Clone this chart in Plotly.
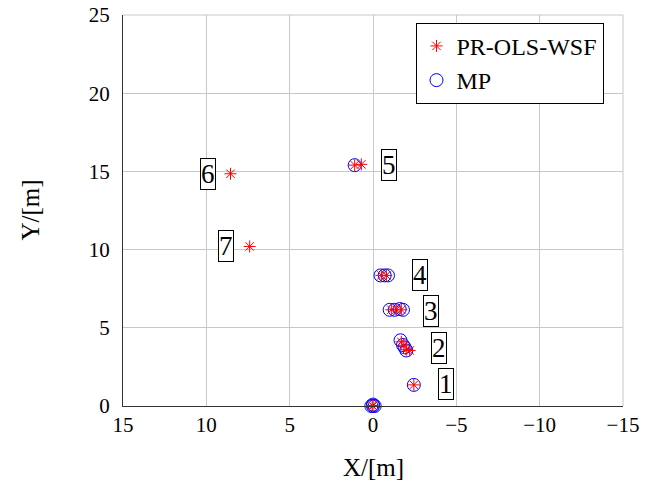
import plotly.graph_objects as go

# PR-OLS-WSF estimates (red asterisks)
pr_x = [0.0, 0.05, -0.05, -2.45, -1.7, -1.85, -2.0, -2.2, -1.1, -1.4, -1.7, -0.5, -0.8, 1.1, 0.7, 8.55, 7.4]
pr_y = [0.0, 0.03, -0.03, 1.35, 4.1, 3.85, 3.6, 3.55, 6.15, 6.15, 6.15, 8.35, 8.35, 15.4, 15.45, 14.85, 10.2]

# MP estimates (blue circles)
mp_x = [0.0, 0.1, -0.1, 0.0, 0.0, -2.45, -1.65, -1.8, -1.9, -2.0, -1.0, -1.3, -1.6, -1.8, -0.45, -0.7, -0.9, 1.1]
mp_y = [0.0, 0.0, 0.0, 0.09, -0.09, 1.35, 4.2, 3.9, 3.75, 3.55, 6.15, 6.15, 6.2, 6.15, 8.35, 8.35, 8.35, 15.4]

# Source labels
lab_text = ["1", "2", "3", "4", "5", "6", "7"]
lab_x = [-4.4, -3.95, -3.45, -2.8, -0.95, 9.9, 8.8]
lab_y = [1.4, 3.7, 6.1, 8.4, 15.4, 14.85, 10.2]

x_ticks = [15, 10, 5, 0, -5, -10, -15]
y_ticks = [0, 5, 10, 15, 20, 25]

FONT = "Liberation Serif, Times New Roman, Times, serif"

fig = go.Figure()
fig.add_trace(go.Scatter(
    x=mp_x, y=mp_y, mode="markers", name="MP", cliponaxis=False,
    marker=dict(symbol="circle-open", size=13, color="blue",
                line=dict(color="blue", width=1)),
))
fig.add_trace(go.Scatter(
    x=pr_x, y=pr_y, mode="markers", name="PR-OLS-WSF", cliponaxis=False,
    marker=dict(symbol="asterisk-open", size=10, color="red",
                line=dict(color="red", width=1)),
))

for t, x, y in zip(lab_text, lab_x, lab_y):
    fig.add_annotation(x=x, y=y, text=t, showarrow=False,
                       font=dict(family=FONT, size=27, color="black"),
                       bordercolor="black", borderwidth=1, borderpad=0,
                       bgcolor="white")

# axis titles
fig.add_annotation(xref="paper", yref="paper", x=0.5, y=0, yshift=-61,
                   text="X/[m]", showarrow=False, xanchor="center", yanchor="middle",
                   font=dict(family=FONT, size=25, color="black"))
fig.add_annotation(xref="paper", yref="paper", x=0, y=0.5, xshift=-93,
                   text="Y/[m]", showarrow=False, textangle=-90,
                   xanchor="center", yanchor="middle",
                   font=dict(family=FONT, size=25, color="black"))

fig.update_layout(
    width=665, height=482,
    margin=dict(l=123, r=42, t=15, b=76, autoexpand=False),
    paper_bgcolor="white", plot_bgcolor="white",
    font=dict(family=FONT, size=21, color="black"),
    showlegend=True,
    legend=dict(x=0.585, y=0.98, xanchor="left", yanchor="top",
                traceorder="reversed",
                bordercolor="black", borderwidth=1, bgcolor="white",
                font=dict(family=FONT, size=24), itemwidth=30,
                tracegroupgap=0),
    xaxis=dict(range=[15, -15], tickvals=x_ticks,
               ticktext=[str(v).replace("-", "\u2212") for v in x_ticks],
               showgrid=True, gridcolor="#c8c8c8", gridwidth=1,
               zeroline=False, showline=True, linecolor="#333", linewidth=1,
               ticks="", ticklen=0, automargin=False, ticklabelstandoff=0,
               ticklabeloverflow="allow"),
    yaxis=dict(range=[0, 25], tickvals=y_ticks,
               showgrid=True, gridcolor="#c8c8c8", gridwidth=1,
               zeroline=False, showline=True, linecolor="#333", linewidth=1,
               ticks="", ticklen=0, automargin=False, ticklabelstandoff=8,
               ticklabeloverflow="allow"),
    shapes=[
        dict(type="line", xref="paper", yref="paper", x0=0, x1=1, y0=1, y1=1,
             line=dict(color="#c8c8c8", width=1)),
        dict(type="line", xref="paper", yref="paper", x0=1, x1=1, y0=0, y1=1,
             line=dict(color="#c8c8c8", width=1)),
    ],
)

fig.write_html("out.html", config={"displayModeBar": False},
               post_script="document.body.style.margin='0';document.body.style.overflow='hidden';")
